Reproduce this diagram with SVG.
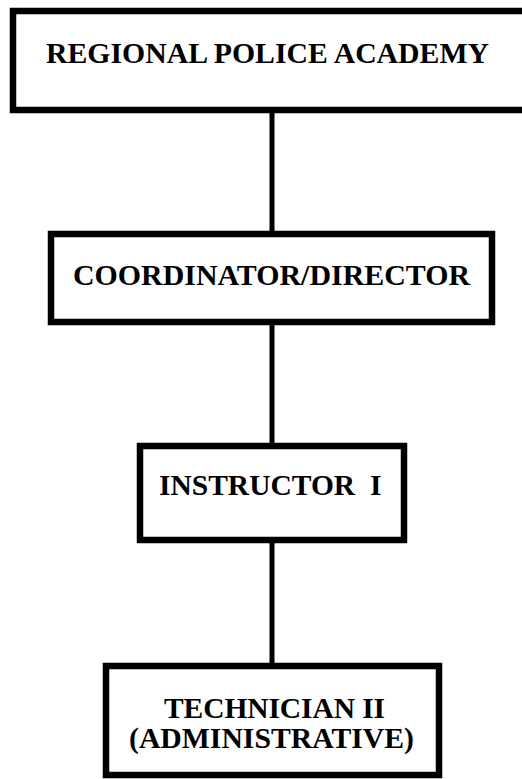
<svg xmlns="http://www.w3.org/2000/svg" width="522" height="779" viewBox="0 0 522 779">
<style>
.box{fill:#fff;stroke:#000;stroke-width:6.5}
.lbl{font-family:"Liberation Serif","Times New Roman",serif;font-weight:bold;font-size:29.5px;fill:#000}
.conn{stroke:#000;stroke-width:5;fill:none}
</style>
<rect width="522" height="779" fill="#fff"/>
<g id="connectors">
<line class="conn" x1="272" y1="110" x2="272" y2="234"/>
<line class="conn" x1="272" y1="322" x2="272" y2="446"/>
<line class="conn" x1="272" y1="540" x2="272" y2="666"/>
</g>
<g id="node-academy">
<rect class="box" x="13" y="11" width="530" height="99"/>
<text class="lbl" x="46" y="63" textLength="443" lengthAdjust="spacingAndGlyphs">REGIONAL POLICE ACADEMY</text>
</g>
<g id="node-coordinator">
<rect class="box" x="51" y="234" width="441" height="88"/>
<text class="lbl" x="73" y="285" textLength="397" lengthAdjust="spacingAndGlyphs">COORDINATOR/DIRECTOR</text>
</g>
<g id="node-instructor">
<rect class="box" x="140" y="446" width="264" height="94"/>
<text class="lbl" x="159" y="495" style="white-space:pre" xml:space="preserve">INSTRUCTOR  I</text>
</g>
<g id="node-technician">
<rect class="box" x="106" y="666" width="333" height="109"/>
<text class="lbl" x="164" y="718" textLength="221" lengthAdjust="spacing">TECHNICIAN II</text>
<text class="lbl" x="129" y="748" textLength="285" lengthAdjust="spacingAndGlyphs">(ADMINISTRATIVE)</text>
</g>
</svg>
